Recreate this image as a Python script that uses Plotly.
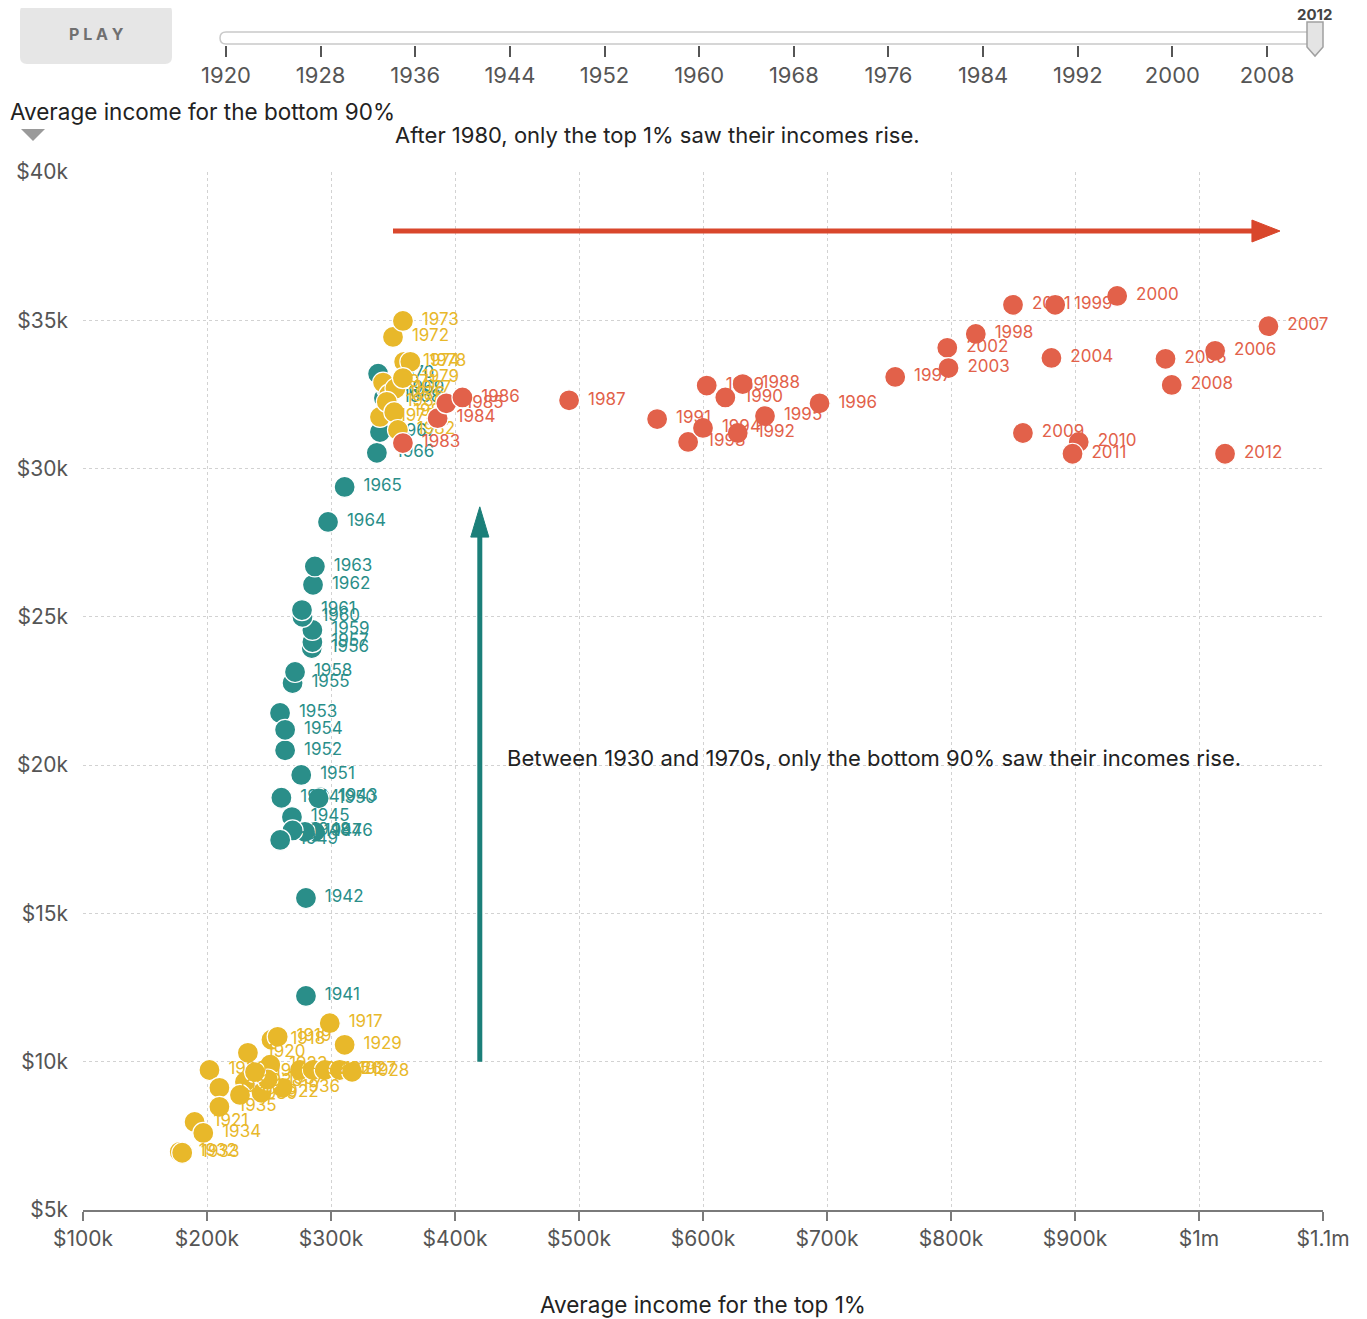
import plotly.graph_objects as go

# ---------------- data ----------------
years = list(range(1917, 2013))
# average income of the top 1% (thousand $)
top1_k = [
    299, 252, 257, 233, 190, 244, 251, 275, 285.5, 295,          # 1917-1926
    307, 317, 311, 202, 210, 178, 180, 197, 210, 261,            # 1927-1936
    249, 230.6, 226.6, 238.7, 279.8, 279.8, 291, 260, 268.5, 287,  # 1937-1946
    279, 269, 259, 290, 276, 263, 258.9, 263, 269, 284.5,        # 1947-1956
    285, 271, 285, 277, 276.6, 285.5, 287, 297.6, 311, 337,      # 1957-1966
    339.5, 342.7, 345, 338, 342, 350, 358, 359, 339.5, 347,      # 1967-1976
    352, 364, 358, 345, 351, 354, 358, 386, 393, 406,            # 1977-1986
    492, 632, 603, 618, 563, 628, 588, 600, 650, 694,            # 1987-1996
    755, 820, 884, 934, 850, 797, 798, 881, 973, 1013,           # 1997-2006
    1056, 978, 858, 903, 898, 1021,                              # 2007-2012
]
# average income of the bottom 90% (thousand $)
bottom90_k = [
    11.3, 10.74, 10.84, 10.3, 7.97, 8.95, 9.9, 9.72, 9.72, 9.72,
    9.72, 9.66, 10.57, 9.72, 9.12, 6.96, 6.93, 7.6, 8.48, 9.12,
    9.4, 9.32, 8.88, 9.65, 12.22, 15.52, 18.92, 18.9, 18.25, 17.75,
    17.75, 17.8, 17.48, 18.88, 19.67, 20.5, 21.76, 21.19, 22.77, 23.95,
    24.15, 23.14, 24.56, 25.0, 25.23, 26.08, 26.7, 28.2, 29.38, 30.53,
    31.23, 32.38, 32.7, 33.2, 32.9, 34.44, 34.98, 33.6, 31.74, 32.5,
    32.7, 33.6, 33.05, 32.25, 31.9, 31.3, 30.86, 31.7, 32.2, 32.4,
    32.3, 32.85, 32.8, 32.4, 31.67, 31.2, 30.9, 31.37, 31.77, 32.2,
    33.09, 34.54, 35.52, 35.82, 35.52, 34.07, 33.39, 33.73, 33.7, 33.97,
    34.8, 32.82, 31.2, 30.9, 30.5, 30.5,
]

x_tickvals_k = [100, 200, 300, 400, 500, 600, 700, 800, 900, 1000, 1100]
x_ticktext = ["$100k", "$200k", "$300k", "$400k", "$500k", "$600k", "$700k",
              "$800k", "$900k", "$1m", "$1.1m"]
y_tickvals_k = [5, 10, 15, 20, 25, 30, 35, 40]
y_ticktext = ["$5k", "$10k", "$15k", "$20k", "$25k", "$30k", "$35k", "$40k"]
slider_years = list(range(1920, 2009, 8))
current_year = 2012

# eras (year ranges) and their colours
eras = [
    (1917, 1940, "#E8B82A"),
    (1941, 1970, "#2A8E89"),
    (1971, 1982, "#E8B82A"),
    (1983, 2012, "#E2614A"),
]

# ---------------- layout helpers ----------------
# the page body has an 8px margin, so the figure starts at page (8, 8)
OFF = 8
W, H = 1367 - OFF, 1319 - OFF
ML = 83 - OFF
MR = 44
MB = 109
PLOT_W = W - ML - MR          # 1240
PAPER_H = H - MB              # 1202 (top margin is 0)


def px(xp):
    """page pixel x -> paper x"""
    return (xp - OFF - ML) / PLOT_W


def py(yp):
    """page pixel y -> paper y"""
    return (PAPER_H - (yp - OFF)) / PAPER_H


def rrect(x0, y0, x1, y1, r):
    pts = [
        f"M{px(x0 + r)},{py(y0)}",
        f"L{px(x1 - r)},{py(y0)}",
        f"Q{px(x1)},{py(y0)} {px(x1)},{py(y0 + r)}",
        f"L{px(x1)},{py(y1 - r)}",
        f"Q{px(x1)},{py(y1)} {px(x1 - r)},{py(y1)}",
        f"L{px(x0 + r)},{py(y1)}",
        f"Q{px(x0)},{py(y1)} {px(x0)},{py(y1 - r)}",
        f"L{px(x0)},{py(y0 + r)}",
        f"Q{px(x0)},{py(y0)} {px(x0 + r)},{py(y0)}",
        "Z",
    ]
    return " ".join(pts)


def poly(points):
    return "M" + " L".join(f"{px(a)},{py(b)}" for a, b in points) + " Z"


FONT = "Inter, 'Open Sans', sans-serif"

fig = go.Figure()

for y0, y1, col in eras:
    idx = [i for i, yr in enumerate(years) if y0 <= yr <= y1]
    fig.add_trace(go.Scatter(
        x=[top1_k[i] * 1000 for i in idx],
        y=[bottom90_k[i] * 1000 for i in idx],
        text=["\u00a0" + str(years[i]) for i in idx],
        mode="markers+text",
        textposition="middle right",
        textfont=dict(family=FONT, size=17, color=col),
        marker=dict(size=21, color=col, line=dict(color="white", width=1.2)),
        hoverinfo="skip",
        showlegend=False,
        cliponaxis=False,
    ))

# invisible trace to carry the slider axis
fig.add_trace(go.Scatter(x=[slider_years[0]], y=[0.5], xaxis="x2", yaxis="y2",
                         mode="markers", marker=dict(opacity=0),
                         hoverinfo="skip", showlegend=False))

RED = "#D9472C"
TEAL = "#1B7F79"

shapes = [
    # play button
    dict(type="path", xref="paper", yref="paper", path=rrect(20, 5, 172, 64, 7),
         fillcolor="#E6E6E6", line=dict(width=0), layer="below"),
    # slider track
    dict(type="path", xref="paper", yref="paper", path=rrect(220, 32, 1312, 44, 6),
         fillcolor="white", line=dict(color="#C9C9C9", width=1.5), layer="below"),
    # slider handle
    dict(type="path", xref="paper", yref="paper",
         path=poly([(1307, 22), (1323, 22), (1323, 47), (1315, 56), (1307, 47)]),
         fillcolor="#E4E4E4", line=dict(color="#A0A0A0", width=1.5)),
    # little triangle under y title
    dict(type="path", xref="paper", yref="paper",
         path=poly([(21, 129), (45, 129), (33, 141)]),
         fillcolor="#9A9A9A", line=dict(width=0)),
    # red arrow
    dict(type="line", xref="x", yref="y", x0=350000, x1=1045000, y0=38010, y1=38010,
         line=dict(color=RED, width=5)),
    dict(type="path", xref="x", yref="y",
         path="M1042700,37640 L1065300,38010 L1042700,38380 Z",
         fillcolor=RED, line=dict(color=RED, width=1)),
    # teal arrow
    dict(type="line", xref="x", yref="y", x0=420000, x1=420000, y0=10000, y1=27900,
         line=dict(color=TEAL, width=5)),
    dict(type="path", xref="x", yref="y",
         path="M412700,27690 L420000,28710 L427300,27690 Z",
         fillcolor=TEAL, line=dict(color=TEAL, width=1)),
]

annotations = [
    dict(text="<b>%d</b>" % current_year, xref="paper", yref="paper",
         x=px(1314), y=py(15), xanchor="center", yanchor="middle", showarrow=False,
         borderpad=0, font=dict(family=FONT, size=15, color="#444")),
    dict(text="<b>P\u00a0L\u00a0A\u00a0Y</b>", xref="paper", yref="paper",
         x=px(96), y=py(34), xanchor="center", yanchor="middle", showarrow=False,
         font=dict(family=FONT, size=16, color="#707070")),
    dict(text="Average income for the bottom 90%", xref="paper", yref="paper",
         x=px(8), y=py(111), xanchor="left", yanchor="middle", showarrow=False,
         font=dict(family=FONT, size=22.5, color="#222")),
    dict(text="After 1980, only the top 1% saw their incomes rise.", xref="paper",
         yref="paper", x=px(393), y=py(135), xanchor="left", yanchor="middle",
         showarrow=False, font=dict(family=FONT, size=22, color="#222")),
    dict(text="Between 1930 and 1970s, only the bottom 90% saw their incomes rise.",
         xref="x", yref="y", x=440300, y=20240, xanchor="left", yanchor="middle",
         showarrow=False, font=dict(family=FONT, size=22, color="#222")),
    dict(text="Average income for the top 1%", xref="paper", yref="paper",
         x=px(703), y=py(1304), xanchor="center", yanchor="middle", showarrow=False,
         font=dict(family=FONT, size=22.5, color="#222")),
]

fig.update_layout(
    width=W, height=H,
    margin=dict(l=ML, r=MR, t=0, b=MB, autoexpand=False),
    paper_bgcolor="white", plot_bgcolor="white",
    font=dict(family=FONT),
    xaxis=dict(
        range=[100000, 1100000], tickvals=[v * 1000 for v in x_tickvals_k],
        ticktext=x_ticktext, showgrid=True, gridcolor="#D2D2D2", griddash="dot",
        gridwidth=1, showline=True, linecolor="#7A7A7A", linewidth=2,
        ticks="outside", ticklen=9, tickwidth=2, tickcolor="#7A7A7A",
        tickfont=dict(family=FONT, size=21, color="#555"), zeroline=False,
        anchor="y", domain=[0, 1], fixedrange=True,
    ),
    yaxis=dict(
        range=[5000, 40000], tickvals=[v * 1000 for v in y_tickvals_k],
        ticktext=y_ticktext, showgrid=True, gridcolor="#D2D2D2", griddash="dot",
        gridwidth=1, showline=False, ticks="", ticklabelstandoff=14,
        tickfont=dict(family=FONT, size=21, color="#555"), zeroline=False,
        domain=[0, py(172)], anchor="x", fixedrange=True,
    ),
    xaxis2=dict(
        range=[1907.912, 2012.73], tickvals=slider_years,
        ticktext=[str(v) for v in slider_years],
        showgrid=False, showline=False, zeroline=False,
        ticks="outside", ticklen=11, tickwidth=1.5, tickcolor="#555",
        tickfont=dict(family=FONT, size=22, color="#555"),
        anchor="y2", domain=[0, 1], fixedrange=True,
    ),
    yaxis2=dict(domain=[py(45), py(32)], range=[0, 1], visible=False,
                anchor="x2", fixedrange=True),
    shapes=shapes,
    annotations=annotations,
)

fig.write_html("out.html")
